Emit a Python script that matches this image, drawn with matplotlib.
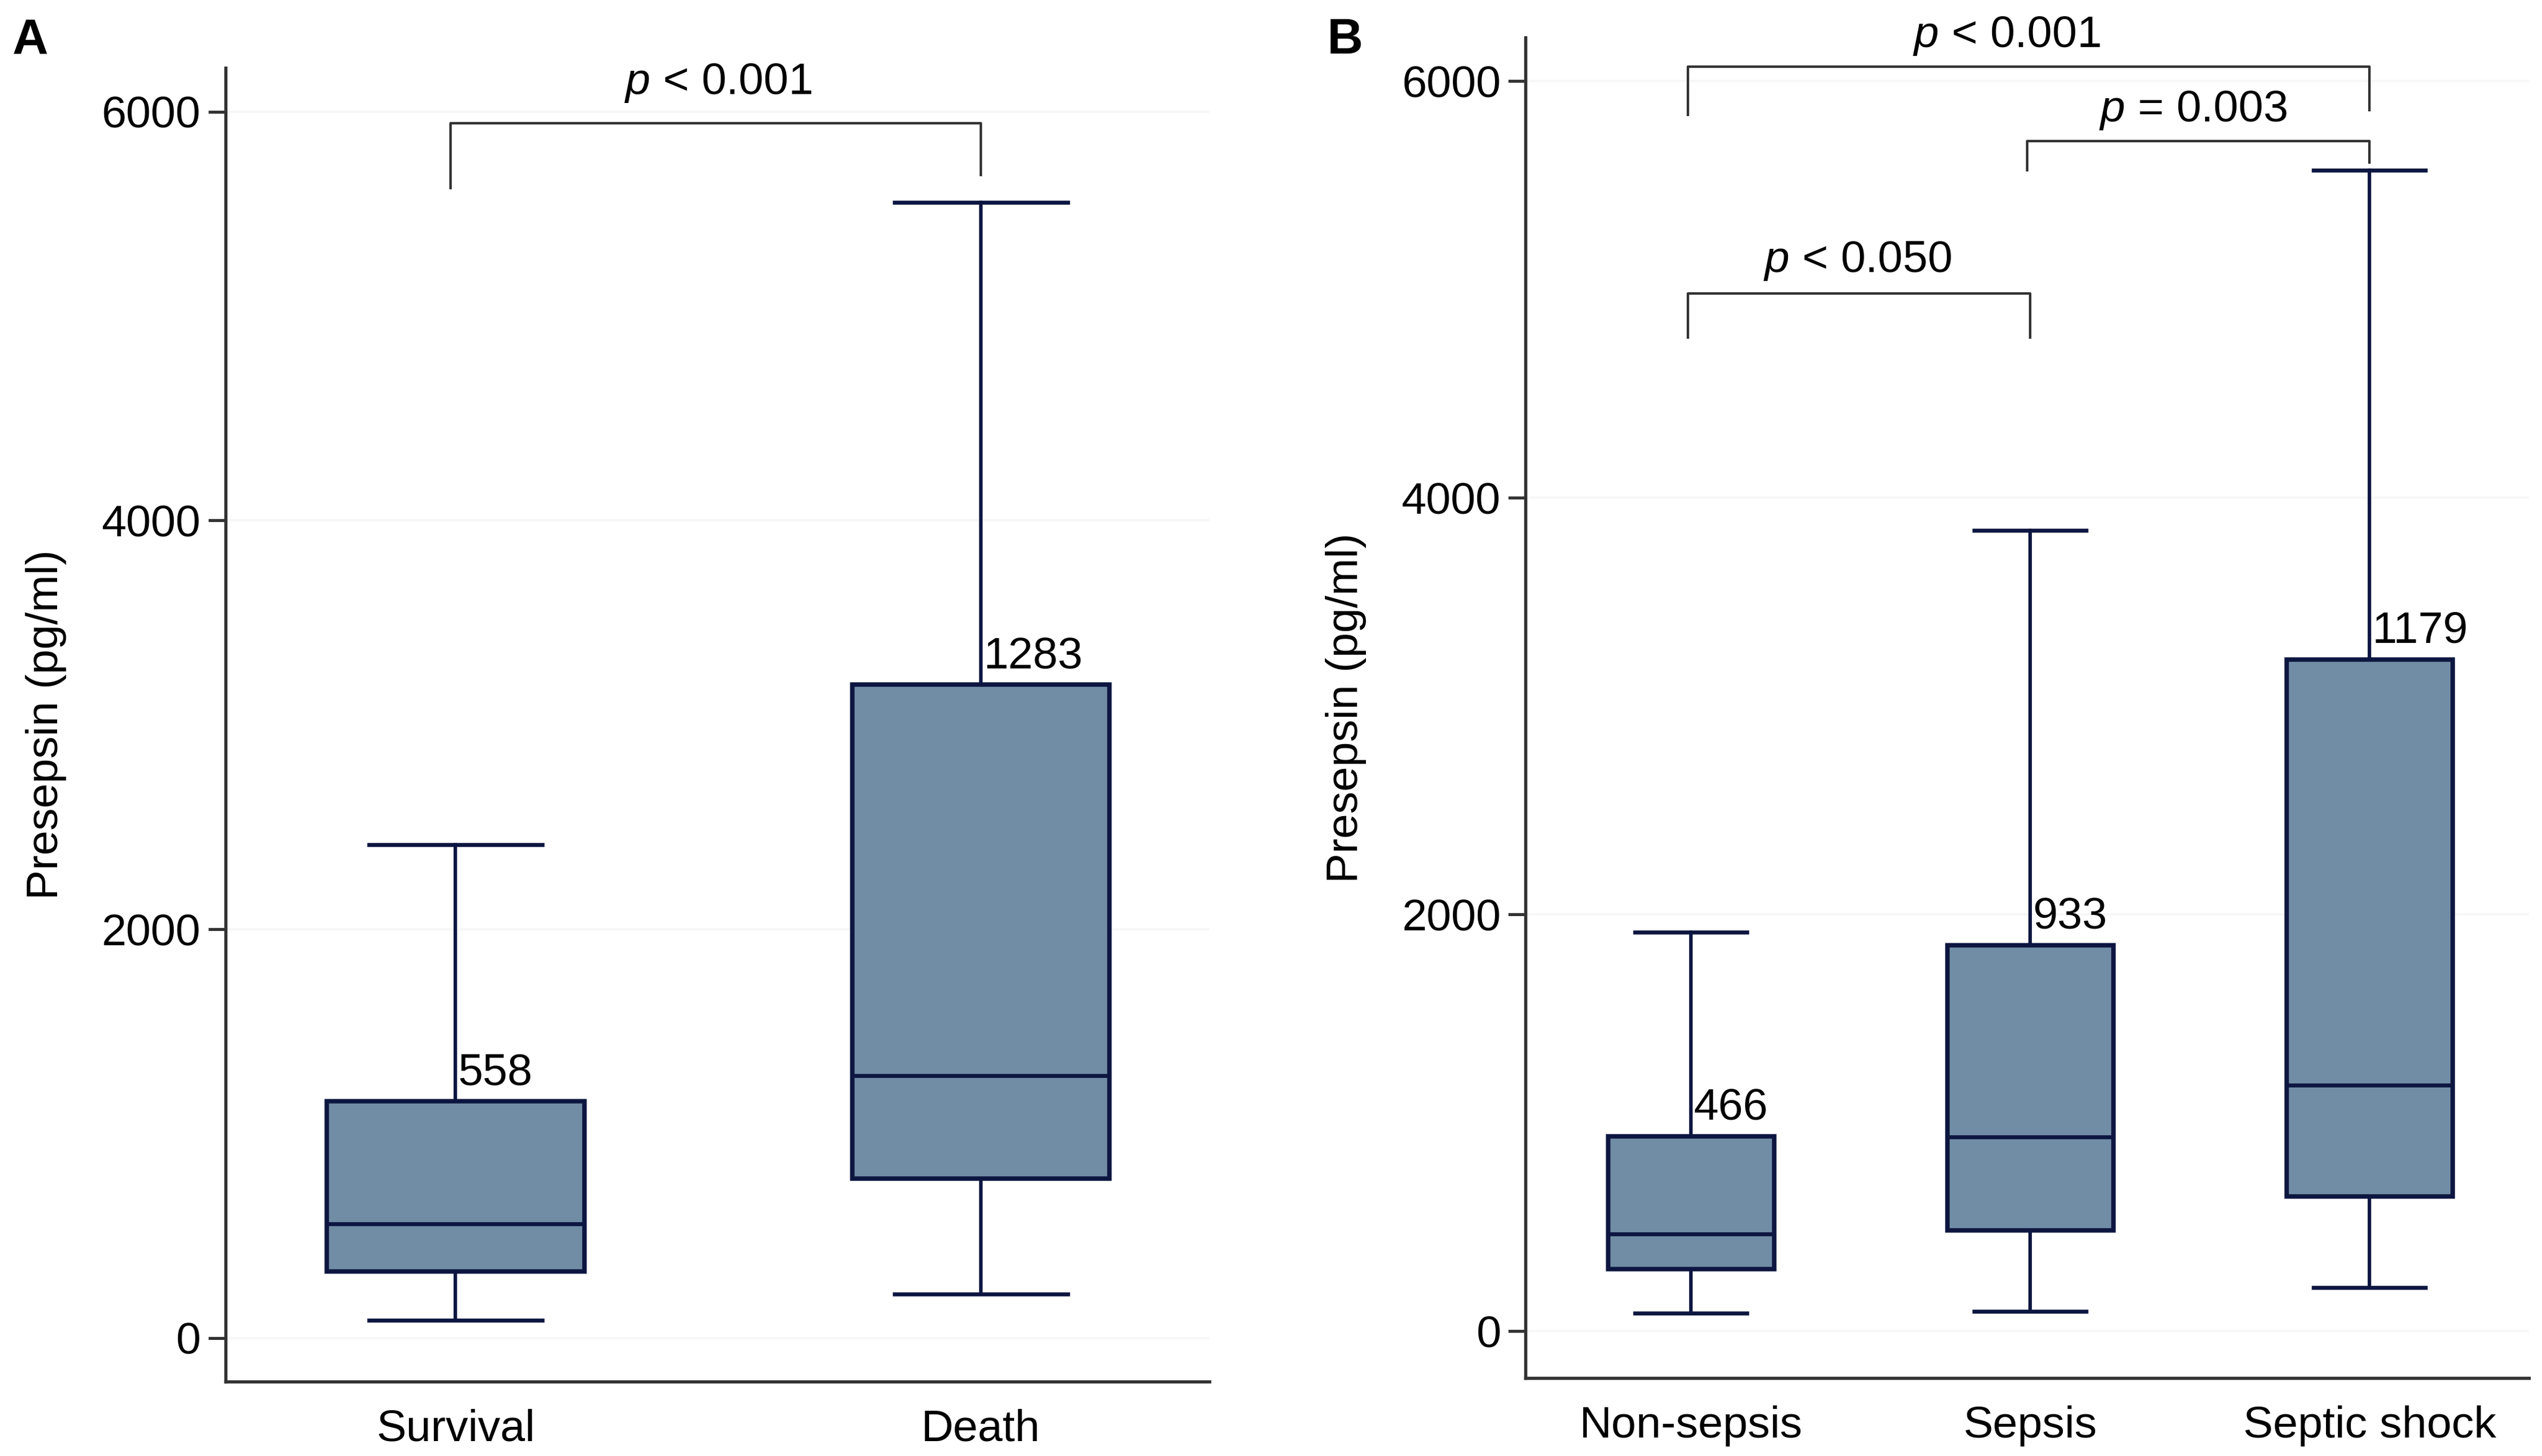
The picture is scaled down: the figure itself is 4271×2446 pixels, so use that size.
import matplotlib
matplotlib.use("Agg")
import matplotlib.pyplot as plt

# panel A: survival vs death
groups_a = ["Survival", "Death"]
whislo_a = [87, 214]
q1_a = [325, 778]
med_a = [558, 1283]
q3_a = [1159, 3198]
whishi_a = [2413, 5556]

# panel B: sepsis severity
groups_b = ["Non-sepsis", "Sepsis", "Septic shock"]
whislo_b = [86, 93, 210]
q1_b = [296, 482, 646]
med_b = [466, 933, 1179]
q3_b = [934, 1852, 3222]
whishi_b = [1914, 3844, 5572]

# (left group, right group, bar height, left leg end, right leg end, text, text x, text y)
brackets_a = [(1, 2, 5944, 5627, 5690, "< 0.001", 1.5, 6087)]
brackets_b = [
    (1, 3, 6070, 5837, 5860, "< 0.001", 1.93, 6163),
    (2, 3, 5712, 5572, 5610, "= 0.003", 2.48, 5805),
    (1, 2, 4981, 4770, 4770, "< 0.050", 1.49, 5082),
]

FILL = "#718da5"
EDGE = "#0d1640"
FONT = "Liberation Sans"
FS = 18

plt.rcParams["font.family"] = FONT
plt.rcParams["mathtext.fontset"] = "custom"
plt.rcParams["mathtext.it"] = FONT + ":italic"
plt.rcParams["mathtext.rm"] = FONT


def draw_panel(ax, groups, whislo, q1, med, q3, whishi, brackets, ylim, xlim):
    stats = []
    for i in range(len(groups)):
        stats.append({"label": groups[i], "whislo": whislo[i], "q1": q1[i],
                      "med": med[i], "q3": q3[i], "whishi": whishi[i], "fliers": []})
    pos = list(range(1, len(groups) + 1))
    ax.bxp(stats, positions=pos, widths=0.49, patch_artist=True, showfliers=False,
           boxprops=dict(facecolor=FILL, edgecolor=EDGE, linewidth=1.8),
           medianprops=dict(color=EDGE, linewidth=1.6),
           whiskerprops=dict(color=EDGE, linewidth=1.4),
           capprops=dict(color=EDGE, linewidth=1.6),
           capwidths=0.33)
    for i, p in enumerate(pos):
        ax.annotate(f"{med[i]}", xy=(p, q3[i]), xytext=(1, 3), textcoords="offset points",
                    ha="left", va="bottom", fontsize=FS)
    for g1, g2, h, l1, l2, txt, tx, ty in brackets:
        ax.plot([g1 - 0.01, g1 - 0.01, g2, g2], [l1, h, h, l2], color="#333333",
                linewidth=1.0, clip_on=False)
        ax.text(tx, ty, r"$\mathit{p}$ " + txt, ha="center", va="baseline",
                fontsize=FS, clip_on=False)
    ax.set_ylim(*ylim)
    ax.set_xlim(*xlim)
    ax.set_yticks([0, 2000, 4000, 6000])
    ax.set_xticks(pos)
    ax.set_xticklabels(groups, fontsize=FS)
    ax.tick_params(axis="x", length=0, pad=11)
    ax.tick_params(axis="y", length=7, width=1.2, color="#333333", pad=3, labelsize=FS)
    ax.yaxis.grid(True, color="#f7f7f7", linewidth=1.0)
    ax.set_axisbelow(True)
    for s in ["top", "right"]:
        ax.spines[s].set_visible(False)
    for s in ["left", "bottom"]:
        ax.spines[s].set_color("#333333")
        ax.spines[s].set_linewidth(1.3)
    ax.set_ylabel("Presepsin (pg/ml)", fontsize=FS, labelpad=14)


fig = plt.figure(figsize=(4271 / 300, 2446 / 300), dpi=300)
ax_a = fig.add_axes([0.0887, 0.0511, 0.3871, 0.9021])
ax_b = fig.add_axes([0.6001, 0.0535, 0.3948, 0.9209])

draw_panel(ax_a, groups_a, whislo_a, q1_a, med_a, q3_a, whishi_a, brackets_a,
           (-214, 6214), (0.562, 2.435))
draw_panel(ax_b, groups_b, whislo_b, q1_b, med_b, q3_b, whishi_b, brackets_b,
           (-226, 6210), (0.512, 3.47))

fig.text(0.005, 0.988, "A", fontsize=20, fontweight="bold", ha="left", va="top")
fig.text(0.522, 0.988, "B", fontsize=20, fontweight="bold", ha="left", va="top")

fig.savefig("out.png", dpi=300)
